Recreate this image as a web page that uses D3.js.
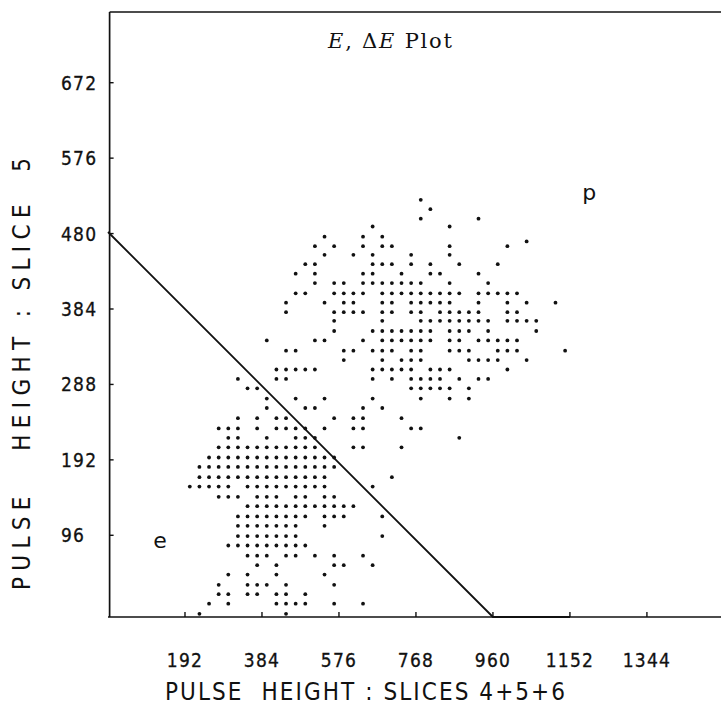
<!DOCTYPE html>
<html>
<head>
<meta charset="utf-8">
<script src="https://cdn.jsdelivr.net/npm/d3@7"></script>
<style>
  html, body { margin: 0; padding: 0; background: #fff; }
  svg { display: block; }
  .tick-label { font-family: "DejaVu Sans Condensed", "Liberation Sans Narrow", "DejaVu Sans", sans-serif; font-stretch: condensed; font-size: 19px; fill: #111; stroke: #111; stroke-width: 0.3px; letter-spacing: 1.2px; }
  .axis-title { font-family: "DejaVu Sans Condensed", "Liberation Sans Narrow", "DejaVu Sans", sans-serif; font-stretch: condensed; font-size: 24px; fill: #111; white-space: pre; }
</style>
</head>
<body>
<div id="chart"></div>
<script>
// axis ticks
const xTicks = [192, 384, 576, 768, 960, 1152, 1344]
const yTicks = [96, 192, 288, 384, 480, 576, 672]

// separation line between the e and p bands
const cutLine = [[0, 482], [960, -8], [1152, -8]]

// band labels (data coords)
const bandLabels = ['p', 'e']
const bandLabelX = [1200, 130]
const bandLabelY = [532, 90]

// events [E, dE]
const events = [
  [228, -4], [444, -4],
  [252, 9], [300, 9], [420, 9], [444, 9], [468, 9], [492, 9], [564, 9], [636, 9],
  [276, 21], [300, 21], [348, 21], [372, 21], [420, 21], [444, 21], [492, 21],
  [276, 33], [348, 33], [372, 33], [396, 33], [444, 33], [564, 33],
  [300, 46], [348, 46], [420, 46], [540, 46],
  [372, 58], [420, 58], [564, 58], [588, 58], [660, 58],
  [348, 70], [372, 70], [396, 70], [444, 70], [468, 70], [516, 70], [564, 70], [636, 70],
  [300, 83], [324, 83], [348, 83], [372, 83], [396, 83], [420, 83], [444, 83], [468, 83], [492, 83],
  [324, 95], [348, 95], [372, 95], [396, 95], [420, 95], [444, 95], [468, 95], [684, 95],
  [324, 108], [348, 108], [372, 108], [396, 108], [420, 108], [444, 108], [468, 108], [540, 108],
  [324, 120], [348, 120], [372, 120], [396, 120], [420, 120], [444, 120], [468, 120], [492, 120], [540, 120], [564, 120], [588, 120], [684, 120],
  [348, 133], [372, 133], [396, 133], [420, 133], [444, 133], [468, 133], [492, 133], [516, 133], [540, 133], [564, 133], [588, 133], [612, 133],
  [276, 145], [300, 145], [324, 145], [372, 145], [396, 145], [420, 145], [468, 145], [492, 145], [540, 145], [564, 145],
  [204, 158], [228, 158], [252, 158], [276, 158], [300, 158], [348, 158], [372, 158], [396, 158], [420, 158], [444, 158], [468, 158], [492, 158], [516, 158], [540, 158], [660, 158],
  [228, 170], [252, 170], [276, 170], [300, 170], [324, 170], [348, 170], [372, 170], [396, 170], [420, 170], [444, 170], [468, 170], [492, 170], [516, 170], [540, 170], [708, 170],
  [228, 183], [252, 183], [276, 183], [300, 183], [324, 183], [348, 183], [372, 183], [396, 183], [420, 183], [444, 183], [468, 183], [492, 183], [516, 183], [540, 183], [564, 183],
  [252, 195], [276, 195], [300, 195], [324, 195], [348, 195], [372, 195], [396, 195], [420, 195], [444, 195], [468, 195], [492, 195], [516, 195], [540, 195], [564, 195],
  [276, 208], [300, 208], [324, 208], [348, 208], [372, 208], [396, 208], [420, 208], [444, 208], [468, 208], [492, 208], [516, 208], [612, 208], [636, 208], [732, 208],
  [300, 220], [324, 220], [396, 220], [468, 220], [492, 220], [516, 220], [876, 220],
  [276, 232], [300, 232], [324, 232], [372, 232], [420, 232], [444, 232], [468, 232], [492, 232], [540, 232], [612, 232], [636, 232], [756, 232], [780, 232],
  [324, 245], [372, 245], [420, 245], [444, 245], [564, 245], [612, 245], [636, 245], [732, 245],
  [396, 258], [492, 258], [516, 258], [636, 258], [684, 258],
  [396, 270], [468, 270], [540, 270], [660, 270], [780, 270], [852, 270], [900, 270],
  [348, 283], [372, 283], [756, 283], [780, 283], [804, 283], [828, 283], [852, 283], [900, 283],
  [324, 295], [420, 295], [444, 295], [660, 295], [708, 295], [756, 295], [780, 295], [804, 295], [828, 295], [876, 295], [924, 295], [948, 295],
  [420, 307], [444, 307], [468, 307], [492, 307], [516, 307], [660, 307], [684, 307], [708, 307], [732, 307], [756, 307], [804, 307], [828, 307], [852, 307], [996, 307],
  [588, 319], [684, 319], [732, 319], [756, 319], [780, 319], [900, 319], [924, 319], [948, 319], [972, 319], [1044, 319],
  [444, 331], [468, 331], [588, 331], [612, 331], [660, 331], [684, 331], [708, 331], [756, 331], [780, 331], [852, 331], [876, 331], [900, 331], [972, 331], [996, 331], [1020, 331], [1140, 331],
  [396, 344], [516, 344], [540, 344], [636, 344], [684, 344], [708, 344], [732, 344], [756, 344], [780, 344], [804, 344], [852, 344], [876, 344], [924, 344], [948, 344], [972, 344], [996, 344], [1020, 344],
  [564, 356], [660, 356], [684, 356], [708, 356], [732, 356], [756, 356], [780, 356], [804, 356], [852, 356], [876, 356], [900, 356], [948, 356], [1068, 356],
  [564, 369], [684, 369], [780, 369], [804, 369], [828, 369], [852, 369], [876, 369], [900, 369], [924, 369], [948, 369], [996, 369], [1020, 369], [1044, 369], [1068, 369],
  [444, 380], [564, 380], [588, 380], [612, 380], [636, 380], [684, 380], [708, 380], [756, 380], [780, 380], [828, 380], [852, 380], [876, 380], [900, 380], [924, 380], [996, 380], [1020, 380],
  [444, 392], [540, 392], [588, 392], [612, 392], [684, 392], [708, 392], [756, 392], [780, 392], [804, 392], [828, 392], [852, 392], [924, 392], [996, 392], [1044, 392], [1116, 392],
  [468, 404], [492, 404], [564, 404], [588, 404], [612, 404], [636, 404], [684, 404], [708, 404], [732, 404], [756, 404], [780, 404], [804, 404], [828, 404], [852, 404], [876, 404], [924, 404], [948, 404], [972, 404], [996, 404], [1020, 404],
  [516, 417], [564, 417], [588, 417], [636, 417], [660, 417], [684, 417], [708, 417], [732, 417], [756, 417], [780, 417], [852, 417], [948, 417],
  [468, 429], [516, 429], [636, 429], [660, 429], [732, 429], [804, 429], [828, 429], [924, 429],
  [492, 441], [516, 441], [660, 441], [684, 441], [708, 441], [756, 441], [804, 441], [876, 441], [972, 441],
  [540, 453], [612, 453], [660, 453], [756, 453], [852, 453],
  [516, 464], [564, 464], [636, 464], [684, 464], [708, 464], [852, 464], [996, 464], [1044, 470],
  [540, 476], [636, 476], [684, 476],
  [660, 489], [852, 489],
  [780, 499], [924, 499],
  [804, 511],
  [780, 523]
]

const width = 721
const height = 707

const svg = d3.select('#chart').append('svg')
  .attr('width', width)
  .attr('height', height)

const x = d3.scaleLinear().domain([0, 1530]).range([108, 721.5])
const y = d3.scaleLinear().domain([-8, 762]).range([617, 12])

const ink = '#111'

// frame: left axis, top line, bottom axis
svg.append('line')
  .attr('x1', x(4)).attr('y1', y(762))
  .attr('x2', x(4)).attr('y2', y(-8))
  .attr('stroke', ink).attr('stroke-width', 1.7)
svg.append('line')
  .attr('x1', x(4)).attr('y1', y(762))
  .attr('x2', width).attr('y2', y(762))
  .attr('stroke', ink).attr('stroke-width', 1.6)
svg.append('line')
  .attr('x1', x(0)).attr('y1', y(-8))
  .attr('x2', width).attr('y2', y(-8))
  .attr('stroke', ink).attr('stroke-width', 1.7)

// ticks
svg.selectAll('.xtick').data(xTicks).enter().append('line')
  .attr('x1', d => x(d)).attr('x2', d => x(d))
  .attr('y1', y(-8)).attr('y2', y(-8) - 5)
  .attr('stroke', ink).attr('stroke-width', 1.4)
svg.selectAll('.ytick').data(yTicks).enter().append('line')
  .attr('x1', x(4)).attr('x2', x(4) + 4)
  .attr('y1', d => y(d)).attr('y2', d => y(d))
  .attr('stroke', ink).attr('stroke-width', 1.4)

// tick labels
svg.selectAll('.xlab').data(xTicks).enter().append('text')
  .attr('class', 'tick-label')
  .attr('x', d => x(d))
  .attr('y', 667)
  .attr('text-anchor', 'middle')
  .text(d => d)
svg.selectAll('.ylab').data(yTicks).enter().append('text')
  .attr('class', 'tick-label')
  .attr('x', 61)
  .attr('y', d => y(d) + 7)
  .text(d => d)

// axis titles
svg.append('text')
  .attr('class', 'axis-title')
  .attr('x', 165).attr('y', 700)
  .attr('textLength', 400).attr('lengthAdjust', 'spacing')
  .text('PULSE  HEIGHT : SLICES 4+5+6')
svg.append('text')
  .attr('class', 'axis-title')
  .attr('transform', 'translate(30, 590) rotate(-90)')
  .attr('textLength', 432).attr('lengthAdjust', 'spacing')
  .text('PULSE   HEIGHT : SLICE  5')

// chart title
const title = svg.append('text')
  .attr('x', 328).attr('y', 48)
  .attr('textLength', 124).attr('lengthAdjust', 'spacing')
  .style('font-family', '"DejaVu Serif", "Liberation Serif", serif')
  .style('font-size', '21px')
  .attr('fill', ink)
title.append('tspan').style('font-style', 'italic').text('E')
title.append('tspan').text(', Δ')
title.append('tspan').style('font-style', 'italic').text('E')
title.append('tspan').text(' Plot')

// cut line
svg.append('path')
  .datum(cutLine)
  .attr('d', d3.line().x(d => x(d[0])).y(d => y(d[1])))
  .attr('fill', 'none')
  .attr('stroke', ink)
  .attr('stroke-width', 1.8)

// events
svg.append('g').selectAll('circle').data(events).enter().append('circle')
  .attr('cx', d => x(d[0]))
  .attr('cy', d => y(d[1]))
  .attr('r', 1.9)
  .attr('fill', ink)

// band labels
svg.selectAll('.band').data(bandLabels).enter().append('text')
  .attr('x', (d, i) => x(bandLabelX[i]))
  .attr('y', (d, i) => y(bandLabelY[i]))
  .attr('text-anchor', 'middle')
  .attr('dominant-baseline', 'central')
  .style('font-family', '"DejaVu Sans", sans-serif')
  .style('font-size', '22px')
  .attr('fill', ink)
  .text(d => d)
</script>
</body>
</html>
